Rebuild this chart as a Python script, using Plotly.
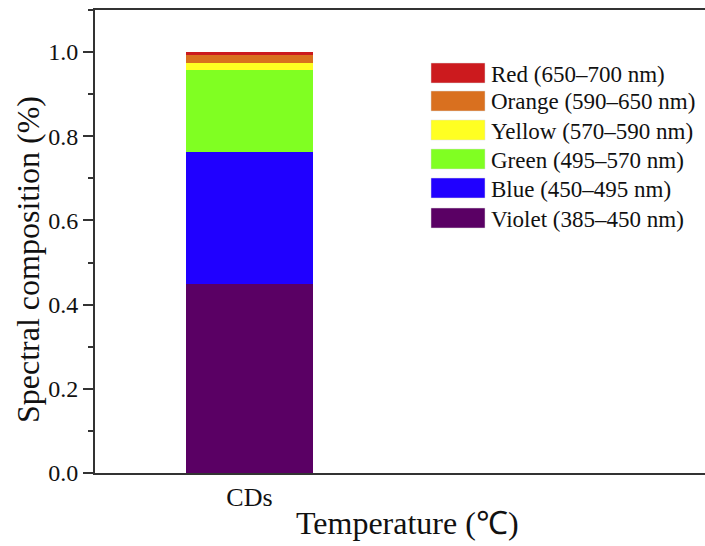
import plotly.graph_objects as go

categories = ["CDs"]
series_names = ["Violet (385–450 nm)", "Blue (450–495 nm)", "Green (495–570 nm)",
                "Yellow (570–590 nm)", "Orange (590–650 nm)", "Red (650–700 nm)"]
violet = [0.450]
blue = [0.312]
green = [0.196]
yellow = [0.016]
orange = [0.018]
red = [0.008]
series_values = [violet, blue, green, yellow, orange, red]
colors = ["#5a0064", "#2000ff", "#80ff22", "#ffff22", "#d9701f", "#cc1a1e"]
y_ticks = [0.0, 0.2, 0.4, 0.6, 0.8, 1.0]

FONT = "Liberation Serif"
fig = go.Figure()
for name, vals, col in zip(series_names, series_values, colors):
    fig.add_trace(go.Bar(x=categories, y=vals, name=name, width=0.8,
                         marker=dict(color=col, line=dict(width=0)),
                         showlegend=False))

L, R, T, B = 95, 705, 10, 473
W, H = R - L, B - T

def px(x):
    return (x - L) / W

def py(y):
    return (B - y) / H

# custom legend (large swatches), top row = last series
row_y = [73, 101, 130, 159, 188, 218]
for i, (name, col) in enumerate(zip(reversed(series_names), reversed(colors))):
    yc = row_y[i]
    fig.add_shape(type="rect", xref="paper", yref="paper",
                  x0=px(431), x1=px(485), y0=py(yc + 10), y1=py(yc - 10),
                  fillcolor=col, line=dict(width=0.5, color="#dddddd"))
    fig.add_annotation(xref="paper", yref="paper", x=px(489), y=py(yc + 1),
                       text=name, showarrow=False, xanchor="left", yanchor="middle",
                       font=dict(family=FONT, size=23, color="#111111"))

# axis titles
fig.add_annotation(xref="paper", yref="paper", x=px(407), y=py(523),
                   text="Temperature (℃)", showarrow=False, xanchor="center", yanchor="middle",
                   font=dict(family=FONT, size=32, color="#111111"))
fig.add_annotation(xref="paper", yref="paper", x=px(28), y=py(260),
                   text="Spectral composition (%)", showarrow=False, textangle=-90,
                   xanchor="center", yanchor="middle",
                   font=dict(family=FONT, size=32, color="#111111"))

fig.update_layout(
    width=705, height=546,
    margin=dict(l=L, r=705 - R, t=T, b=546 - B),
    plot_bgcolor="white", paper_bgcolor="white",
    barmode="stack", bargap=0,
    font=dict(family=FONT, color="#111111"),
    xaxis=dict(range=[-0.98, 2.89], showline=True, linecolor="#333333", linewidth=2,
               mirror=True, ticks="", showgrid=False, zeroline=False,
               tickfont=dict(size=26)),
    yaxis=dict(range=[0, 1.1], tickvals=y_ticks, ticktext=[f"{v:.1f}" for v in y_ticks],
               showline=True, linecolor="#333333", linewidth=2,
               ticks="outside", ticklen=10, tickwidth=2, tickcolor="#333333",
               minor=dict(dtick=0.1, tick0=0, ticks="outside", ticklen=5, tickwidth=2,
                          tickcolor="#333333"),
               showgrid=False, zeroline=False, tickfont=dict(size=24)),
)
fig.write_html("out.html", config={"displayModeBar": False})

with open("out.html", "r", encoding="utf-8") as f:
    html = f.read()
html = html.replace("<body>", '<body style="margin:0;padding:0;overflow:hidden">', 1)
with open("out.html", "w", encoding="utf-8") as f:
    f.write(html)
